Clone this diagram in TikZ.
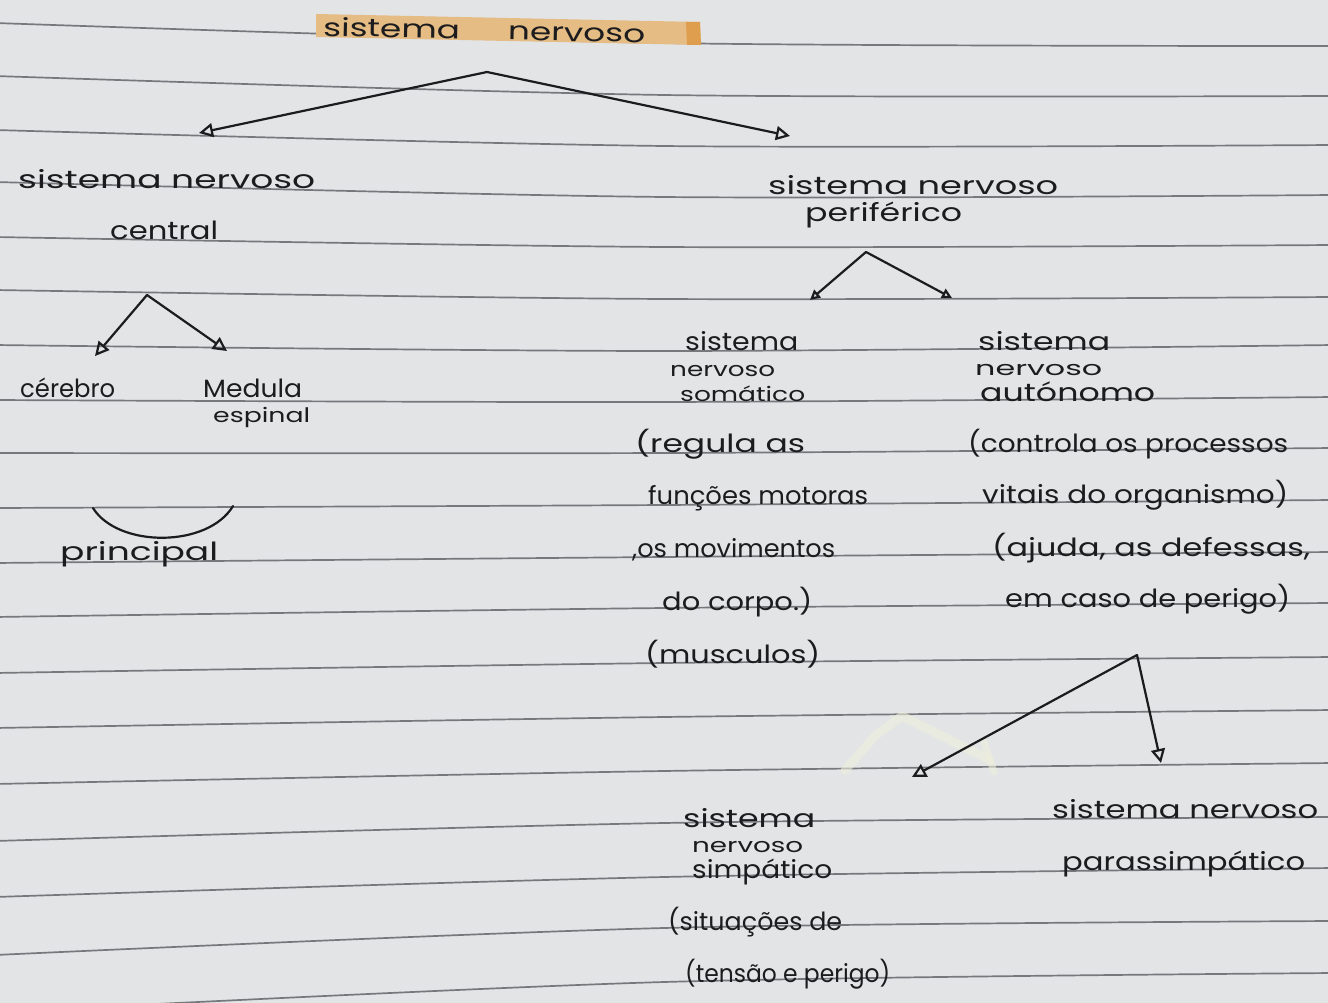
\documentclass[tikz,border=0pt]{standalone}
\usepackage{fontspec}
\setmainfont{Poppins}
\usepackage{graphicx}
\usetikzlibrary{arrows.meta}
\definecolor{paper}{RGB}{226,228,230}
\definecolor{rulecol}{RGB}{118,120,124}
\definecolor{ink}{RGB}{28,28,30}
\definecolor{tape}{RGB}{229,188,132}
\definecolor{tapeend}{RGB}{222,158,78}
\definecolor{ghost}{RGB}{238,238,220}
\newcommand\hw[2]{\resizebox{#1pt}{\height}{#2}}
\tikzset{
  txt/.style={anchor=base west, inner sep=0pt, text=ink, font=\fontsize{25}{25}\selectfont},
  smalltxt/.style={txt, font=\fontsize{20}{20}\selectfont},
  conn/.style={draw=ink, line width=2.2pt, line join=round, line cap=round},
  tips/.style={{Triangle[open,length=14pt,width=14pt,line width=2.2pt]}-{Triangle[open,length=14pt,width=14pt,line width=2.2pt]}},
  smalltips/.style={{Triangle[open,length=10pt,width=10pt,line width=2.2pt]}-{Triangle[open,length=10pt,width=10pt,line width=2.2pt]}},
  ruleline/.style={draw=rulecol, line width=1.7pt}
}
\begin{document}
\begin{tikzpicture}[x=1pt,y=-1pt]
\useasboundingbox (0,0) rectangle (1328,1003);
\fill[paper] (0,0) rectangle (1328,1003);
% ruled lines of the notebook
\foreach \a/\b/\c in {23/43/46,76/95/96,130/146/145,182/197/195,237/247/245,290/299/297,
  345/351/345,400/402/397,453/453/448,508/505/500,563/557/552,617/608/603,673/663/657,
  728/717/710,784/771/763,841/823/817,897/877/868,955/928/921,1012/982/973}
  \draw[ruleline] plot[smooth] coordinates {(-5,\a) (664,\b) (1333,\c)};
% tape label
\fill[tape] (316,14) -- (700,22) -- (701,45) -- (316,37) -- cycle;
\fill[tapeend] (686,22) -- (700,22) -- (701,45) -- (687,45) -- cycle;
% faint correction marks
\draw[ghost, line width=9pt, line cap=round, line join=round, opacity=0.6]
  (845,770) -- (875,736) -- (902,716) -- (990,760);
\draw[ghost, line width=7pt, line cap=round, opacity=0.6] (984,742) -- (994,772);
% texts
\node[txt,rotate=-1.2] (root) at (323,36) {\hw{322}{sistema\hspace{1.4em}nervoso}};
\node[txt] (snc1) at (18,189) {\hw{297}{sistema nervoso}};
\node[txt] (snc2) at (110,240) {\hw{108}{central}};
\node[txt] (snp1) at (768,195) {\hw{290}{sistema nervoso}};
\node[txt] (snp2) at (805,222) {\hw{157}{periférico}};
\node[txt] (sns1) at (685,350) {\hw{113}{sistema}};
\node[smalltxt] (sns2) at (670,376) {\hw{105}{nervoso}};
\node[smalltxt] (sns3) at (680,401) {\hw{125}{somático}};
\node[txt] (sna1) at (978,350) {\hw{132}{sistema}};
\node[smalltxt] (sna2) at (975,375) {\hw{127}{nervoso}};
\node[txt] (sna3) at (980,401) {\hw{175}{autónomo}};
\node[txt] (som1) at (635,452) {\hw{170}{(regula as}};
\node[txt] (som2) at (648,504) {\hw{220}{funções motoras}};
\node[txt] (som3) at (632,557) {\hw{203}{,os movimentos}};
\node[txt] (som4) at (662,610) {\hw{150}{do corpo.)}};
\node[txt] (som5) at (645,663) {\hw{175}{(musculos)}};
\node[txt] (aut1) at (968,452) {\hw{320}{(controla os processos}};
\node[txt] (aut2) at (982,503) {\hw{306}{vitais do organismo)}};
\node[txt] (aut3) at (992,556) {\hw{318}{(ajuda, as defessas,}};
\node[txt] (aut4) at (1005,607) {\hw{285}{em caso de perigo)}};
\node[txt] (cer) at (20,397) {\hw{95}{cérebro}};
\node[txt] (med1) at (203,397) {\hw{99}{Medula}};
\node[smalltxt] (med2) at (213,422) {\hw{97}{espinal}};
\node[txt] (prin) at (60,560) {\hw{158}{principal}};
\node[txt] (sim1) at (683,827) {\hw{132}{sistema}};
\node[smalltxt] (sim2) at (692,852) {\hw{111}{nervoso}};
\node[txt] (sim3) at (692,878) {\hw{140}{simpático}};
\node[txt] (par1) at (1052,818) {\hw{266}{sistema nervoso}};
\node[txt] (par2) at (1062,870) {\hw{243}{parassimpático}};
\node[txt] (sit1) at (668,930) {\hw{174}{(situações de}};
\node[txt] (sit2) at (685,982) {\hw{205}{(tensão e perigo)}};
% connector points
\coordinate (a1) at (487,72);
\coordinate (l1) at (199,133);
\coordinate (r1) at (790,136);
\coordinate (a2) at (147,295);
\coordinate (l2) at (95,356);
\coordinate (r2) at (227,351);
\coordinate (a3) at (866,252);
\coordinate (l3) at (810,300);
\coordinate (r3) at (952,298);
\coordinate (a4) at (1137,655);
\coordinate (l4) at (912,777);
\coordinate (r4) at (1161,763);
\coordinate (b1) at (93,508);
\coordinate (b2) at (233,506);
% connectors
\draw[conn,tips] (l1) -- (a1) -- (r1);
\draw[conn,tips] (l2) -- (a2) -- (r2);
\draw[conn,smalltips] (l3) -- (a3) -- (r3);
\draw[conn,tips] (l4) -- (a4) -- (r4);
\draw[conn] (b1) .. controls (118,548) and (208,548) .. (b2);
\end{tikzpicture}
\end{document}
